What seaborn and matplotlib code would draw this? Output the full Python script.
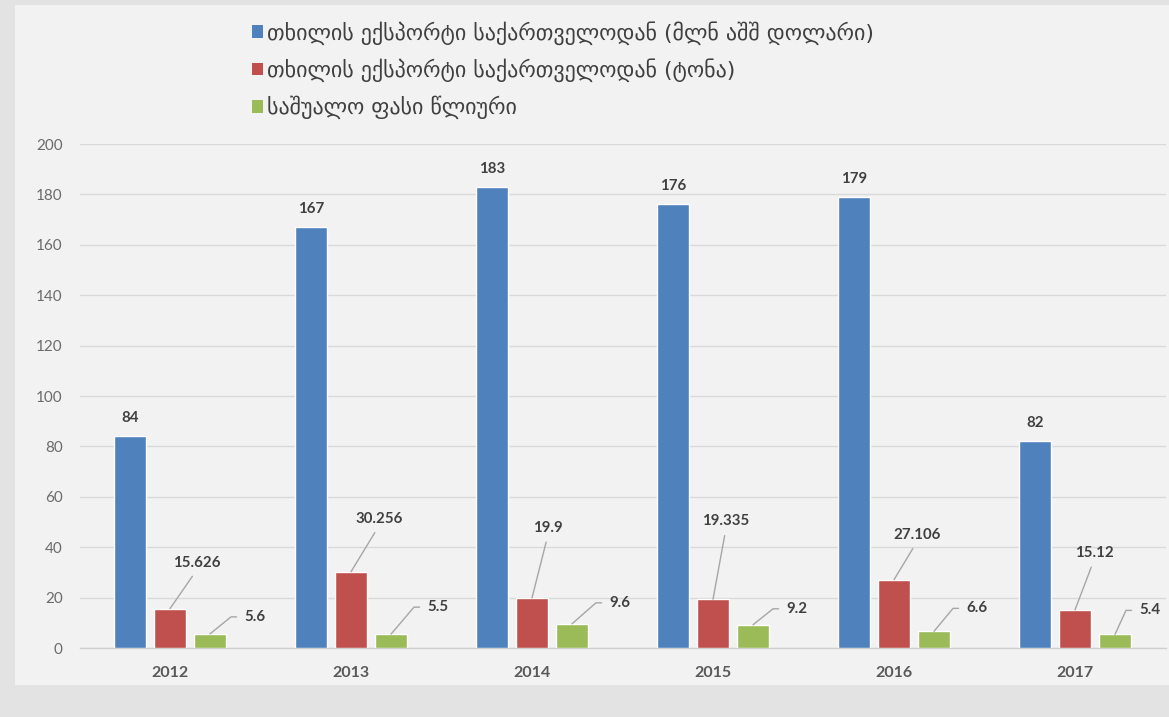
import math
import numpy as np
import pandas as pd
import matplotlib
matplotlib.use("Agg")
import matplotlib.pyplot as plt
from matplotlib.patches import Rectangle
import seaborn as sns

# Data
years = ["2012", "2013", "2014", "2015", "2016", "2017"]
series_names = [
    "თხილის ექსპორტი საქართველოდან (მლნ აშშ დოლარი)",
    "თხილის ექსპორტი საქართველოდან (ტონა)",
    "საშუალო ფასი წლიური",
]
export_usd = [84, 167, 183, 176, 179, 82]
export_tons = [15.626, 30.256, 19.9, 19.335, 27.106, 15.12]
avg_price = [5.6, 5.5, 9.6, 9.2, 6.6, 5.4]
y_ticks = [0, 20, 40, 60, 80, 100, 120, 140, 160, 180, 200]

colors = ["#4F81BD", "#C0504D", "#9BBB59"]

df = pd.DataFrame({
    "year": years * 3,
    "series": [series_names[0]] * 6 + [series_names[1]] * 6 + [series_names[2]] * 6,
    "value": export_usd + export_tons + avg_price,
})

sns.set_theme(style="white")
plt.rcParams["font.family"] = ["Lato", "DejaVu Sans"]

W, H = 1169, 717
fig = plt.figure(figsize=(W / 100, H / 100), dpi=100)
fig.patch.set_facecolor("#e3e3e3")
fig.patches.append(Rectangle((15 / W, 1 - 685 / H), 1 - 15 / W, 680 / H,
                             transform=fig.transFigure, facecolor="#f2f2f2",
                             edgecolor="none", zorder=-5))

ax = fig.add_axes([79.5 / W, 1 - 648 / H, (1165.5 - 79.5) / W, (648 - 144) / H])
ax.set_facecolor("none")
ax.set_zorder(2)

sns.barplot(data=df, x="year", y="value", hue="series", order=years,
            hue_order=series_names, palette=colors, width=0.663, gap=0.22,
            saturation=1, ax=ax, legend=False, errorbar=None, zorder=3)

ax.set_xlim(-0.5, 5.5)
ax.set_ylim(0, 200)
ax.set_yticks(y_ticks)
ax.set_xlabel("")
ax.set_ylabel("")
ax.yaxis.grid(True, color="#d9d9d9", linewidth=1, zorder=0)
ax.set_axisbelow(True)
for s in ["left", "right", "top"]:
    ax.spines[s].set_visible(False)
ax.spines["bottom"].set_color("#cfcfcf")
ax.spines["bottom"].set_linewidth(1)
ax.tick_params(axis="y", length=0, pad=12, labelsize=11, labelcolor="#6b6b6b")
ax.tick_params(axis="x", length=0, pad=13, labelsize=11.5, labelcolor="#595959")
for t in ax.get_xticklabels():
    t.set_fontweight("bold")

# bar containers, one per series
containers = ax.containers
label_kw = dict(fontsize=10.8, fontweight="bold", color="#404040")
leader = dict(arrowstyle="-", color="#a6a6a6", lw=1)

# value labels on the first series: centred above the bars
for bar, v in zip(containers[0], export_usd):
    cx = bar.get_x() + bar.get_width() / 2
    ax.annotate(f"{v}", xy=(cx, v), xytext=(0, 18), textcoords="offset pixels",
                ha="center", va="center", **label_kw)

# second series: labels lifted with a straight leader line
red_offsets = [(27, 46), (28, 53), (16, 70), (13, 78), (23, 45), (19, 57)]
for bar, v, (dx, dy) in zip(containers[1], export_tons, red_offsets):
    cx = bar.get_x() + bar.get_width() / 2
    ax.annotate(f"{v:g}", xy=(cx, v), xytext=(dx, dy), textcoords="offset pixels",
                ha="center", va="center",
                arrowprops=dict(**leader, relpos=(0.5, 0), shrinkA=3, shrinkB=0),
                **label_kw)

# third series: labels to the right with an elbow leader line
green_offsets = [(34, 17), (36, 27), (37, 21), (33, 16), (32, 23), (24, 24)]
for bar, v, (dx, dy) in zip(containers[2], avg_price, green_offsets):
    cx = bar.get_x() + bar.get_width() / 2
    ang = math.degrees(math.atan2(dy, max(dx - 13, 4)))
    ax.annotate(f"{v:g}", xy=(cx, v), xytext=(dx, dy), textcoords="offset pixels",
                ha="left", va="center",
                arrowprops=dict(**leader, relpos=(0, 0.5), shrinkA=3, shrinkB=0,
                                connectionstyle=f"angle,angleA=0,angleB={ang:.1f},rad=0"),
                **label_kw)

# legend
handles = [Rectangle((0, 0), 1, 1, facecolor=c, edgecolor="none") for c in colors]
fig.legend(handles, series_names, loc="upper left",
           bbox_to_anchor=(241 / W, 1 - 10 / H), frameon=False,
           prop={"family": "DejaVu Sans", "size": 15.8}, labelcolor="#404040",
           handlelength=0.5, handleheight=0.5, handletextpad=0.2,
           labelspacing=0.62, borderpad=0)

fig.savefig("out.png", dpi=100, facecolor=fig.get_facecolor())
